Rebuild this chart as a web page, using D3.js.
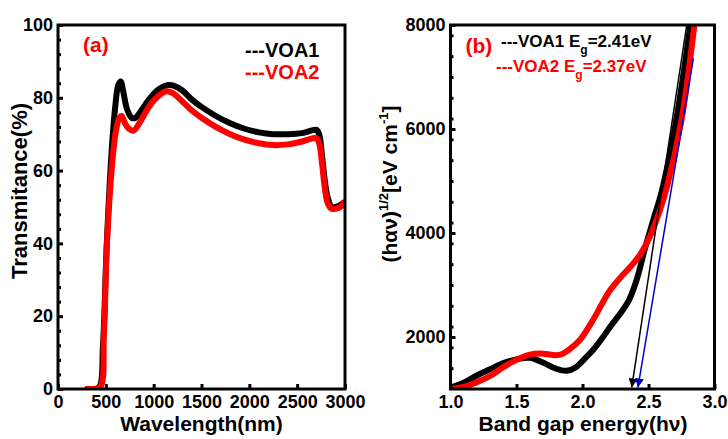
<!DOCTYPE html>
<html>
<head>
<meta charset="utf-8">
<script src="https://cdn.jsdelivr.net/npm/d3@7"></script>
<style>
  body { margin: 0; background: #fff; }
  svg text { font-family: "Liberation Sans", Arial, sans-serif; font-weight: bold; }
</style>
</head>
<body>
<div id="chart"></div>
<script>
// panel (a): transmittance vs wavelength
const wlVOA1 = [280, 350, 430, 470, 510, 560, 600, 630, 655, 680, 720, 770, 810, 870, 950, 1050, 1150, 1200, 1300, 1400, 1500, 1650, 1800, 1950, 2100, 2250, 2400, 2550, 2650, 2700, 2730, 2760, 2790, 2820, 2860, 2900, 2950, 3000];
const tVOA1 = [0, 0, 0.5, 12, 40, 65, 78, 83.5, 84.5, 82, 77, 74.5, 74.5, 76.5, 79.5, 82.3, 83.5, 83.4, 82, 79.5, 77.5, 75, 73, 71.5, 70.5, 70, 70, 70.3, 71, 71.2, 70, 64, 57, 52.5, 50, 50, 50.5, 51.5];
const wlVOA2 = [280, 350, 440, 480, 510, 560, 600, 640, 665, 700, 740, 790, 850, 950, 1050, 1130, 1200, 1300, 1400, 1500, 1650, 1800, 1950, 2100, 2250, 2400, 2550, 2650, 2700, 2730, 2760, 2790, 2820, 2860, 2900, 2950, 3000];
const tVOA2 = [0, 0, 0.5, 15, 39, 60, 70, 74.5, 75, 73, 71.5, 71, 73, 77.5, 80.5, 81.8, 81.3, 79, 76.5, 74.5, 72, 70, 68.5, 67.5, 67, 67.2, 68, 68.8, 69, 67.5, 62, 55, 51, 49.5, 49.5, 50, 51.5];

// panel (b): (h alpha nu)^1/2 vs photon energy
const eVOA1 = [1.0, 1.1, 1.2, 1.3, 1.4, 1.5, 1.6, 1.7, 1.8, 1.88, 1.95, 2.03, 2.08, 2.15, 2.21, 2.3, 2.35, 2.41, 2.47, 2.536, 2.6, 2.71, 2.82];
const aVOA1 = [1030, 1120, 1260, 1380, 1500, 1570, 1600, 1510, 1390, 1350, 1420, 1620, 1750, 1980, 2198, 2500, 2700, 3096, 3673, 4250, 4800, 6173, 8050];
const eVOA2 = [1.0, 1.1, 1.2, 1.3, 1.4, 1.5, 1.6, 1.7, 1.8, 1.85, 1.91, 1.98, 2.08, 2.15, 2.21, 2.3, 2.37, 2.435, 2.51, 2.587, 2.64, 2.75, 2.85];
const aVOA2 = [1000, 1040, 1130, 1250, 1420, 1560, 1660, 1680, 1650, 1680, 1780, 1942, 2327, 2650, 2904, 3180, 3370, 3580, 3929, 4442, 4890, 6173, 8050];

// extrapolation arrows
const fitE1 = [2.79, 2.373];
const fitV1 = [8000, 1030];
const fitE2 = [2.84, 2.42];
const fitV2 = [7360, 1030];

const W = 728, H = 439;
const svg = d3.select("#chart").append("svg")
    .attr("width", W).attr("height", H);

const defs = svg.append("defs");
[["arrBlack", "#000"], ["arrBlue", "#0000cc"]].forEach(([id, c]) => {
    defs.append("marker")
        .attr("id", id)
        .attr("viewBox", "0 0 10 10")
        .attr("refX", 10).attr("refY", 5)
        .attr("markerWidth", 9).attr("markerHeight", 9)
        .attr("markerUnits", "userSpaceOnUse")
        .attr("orient", "auto")
        .append("path")
        .attr("d", "M0,0 L10,5 L0,10 Z")
        .attr("fill", c);
});

function panel(opt) {
    const g = svg.append("g");
    const x = d3.scaleLinear().domain(opt.xDomain).range([opt.left, opt.right]);
    const y = d3.scaleLinear().domain(opt.yDomain).range([opt.bottom, opt.top]);

    defs.append("clipPath").attr("id", opt.id + "-clip")
        .append("rect")
        .attr("x", opt.left).attr("y", opt.top)
        .attr("width", opt.right - opt.left).attr("height", opt.bottom - opt.top);

    const plot = g.append("g").attr("clip-path", `url(#${opt.id}-clip)`);
    const line = d3.line().x(d => x(d[0])).y(d => y(d[1])).curve(d3.curveCatmullRom.alpha(0.5));

    opt.series.forEach(s => {
        plot.append("path")
            .datum(s.xs.map((v, i) => [v, s.ys[i]]))
            .attr("fill", "none")
            .attr("stroke", s.color)
            .attr("stroke-width", 6)
            .attr("stroke-linejoin", "round")
            .attr("d", line);
    });

    (opt.arrows || []).forEach(a => {
        plot.append("line")
            .attr("x1", x(a.xs[0])).attr("y1", y(a.ys[0]))
            .attr("x2", x(a.xs[1])).attr("y2", y(a.ys[1]))
            .attr("stroke", a.color)
            .attr("stroke-width", 1.5)
            .attr("marker-end", `url(#${a.marker})`);
    });

    // minor ticks
    g.append("g")
        .attr("transform", `translate(${opt.left},0)`)
        .call(d3.axisLeft(y).tickValues(opt.yMinor).tickSize(-3).tickFormat(""))
        .call(s => s.select(".domain").remove());

    const xAx = g.append("g")
        .attr("transform", `translate(0,${opt.bottom})`)
        .call(d3.axisBottom(x).tickValues(opt.xTicks).tickSize(-5).tickPadding(6).tickFormat(opt.xFormat));
    const yAx = g.append("g")
        .attr("transform", `translate(${opt.left},0)`)
        .call(d3.axisLeft(y).tickValues(opt.yTicks).tickSize(-5).tickPadding(5).tickFormat(d3.format("d")));

    [xAx, yAx].forEach(ax => {
        ax.select(".domain").remove();
        ax.selectAll("text").attr("fill", "#000").style("font-size", "18px");
    });
    g.selectAll(".tick line").attr("stroke", "#000").attr("stroke-width", 3);

    g.append("rect")
        .attr("x", opt.left).attr("y", opt.top)
        .attr("width", opt.right - opt.left).attr("height", opt.bottom - opt.top)
        .attr("fill", "none").attr("stroke", "#000").attr("stroke-width", 3);

    return { g, x, y };
}

panel({
    id: "pa", left: 58, right: 345, top: 25, bottom: 389,
    xDomain: [0, 3000], yDomain: [0, 100],
    xTicks: [0, 500, 1000, 1500, 2000, 2500, 3000],
    xFormat: d3.format("d"),
    yTicks: [0, 20, 40, 60, 80, 100],
    yMinor: d3.range(4, 100, 4).filter(v => v % 20 !== 0),
    series: [
        { xs: wlVOA1, ys: tVOA1, color: "#000" },
        { xs: wlVOA2, ys: tVOA2, color: "#ff0000" }
    ]
});

panel({
    id: "pb", left: 450.5, right: 714.5, top: 25, bottom: 389,
    xDomain: [1, 3], yDomain: [1000, 8000],
    xTicks: [1.0, 1.5, 2.0, 2.5, 3.0],
    xFormat: d3.format(".1f"),
    yTicks: [2000, 4000, 6000, 8000],
    yMinor: d3.range(1400, 8000, 400).filter(v => v % 2000 !== 0),
    series: [
        { xs: eVOA1, ys: aVOA1, color: "#000" },
        { xs: eVOA2, ys: aVOA2, color: "#ff0000" }
    ],
    arrows: [
        { xs: fitE1, ys: fitV1, color: "#000", marker: "arrBlack" },
        { xs: fitE2, ys: fitV2, color: "#0000cc", marker: "arrBlue" }
    ]
});

// axis titles
svg.append("text").attr("x", 201.5).attr("y", 431).attr("text-anchor", "middle")
    .style("font-size", "21px").text("Wavelength(nm)");
svg.append("text").attr("x", 583).attr("y", 431).attr("text-anchor", "middle")
    .style("font-size", "21px").text("Band gap energy(hν)");

svg.append("text")
    .attr("transform", "translate(27,191) rotate(-90)")
    .attr("text-anchor", "middle")
    .style("font-size", "22px").text("Transmitance(%)");

const yt = svg.append("text")
    .attr("transform", "translate(397,184) rotate(-90)")
    .attr("text-anchor", "middle")
    .style("font-size", "21px");
yt.append("tspan").text("(hαν)");
yt.append("tspan").attr("dy", -9).style("font-size", "13px").text("1/2");
yt.append("tspan").attr("dy", 9).text("[eV cm");
yt.append("tspan").attr("dy", -9).style("font-size", "13px").text("-1");
yt.append("tspan").attr("dy", 9).text("]");

// panel labels and legends
svg.append("text").attr("x", 83).attr("y", 52).attr("fill", "#ff0000")
    .style("font-size", "21px").text("(a)");
svg.append("text").attr("x", 245).attr("y", 57).attr("fill", "#000")
    .style("font-size", "20px").text("---VOA1");
svg.append("text").attr("x", 245).attr("y", 79).attr("fill", "#ff0000")
    .style("font-size", "20px").text("---VOA2");

svg.append("text").attr("x", 465.5).attr("y", 53).attr("fill", "#ff0000")
    .style("font-size", "21px").text("(b)");

function egLegend(x0, y0, name, val, color) {
    const t = svg.append("text").attr("x", x0).attr("y", y0).attr("fill", color)
        .style("font-size", "17px");
    t.append("tspan").text(`---${name} E`);
    t.append("tspan").attr("dy", 7).style("font-size", "12px").text("g");
    t.append("tspan").attr("dy", -7).text(`=${val}eV`);
}
egLegend(501, 47, "VOA1", "2.41", "#000");
egLegend(496, 72, "VOA2", "2.37", "#ff0000");
</script>
</body>
</html>
